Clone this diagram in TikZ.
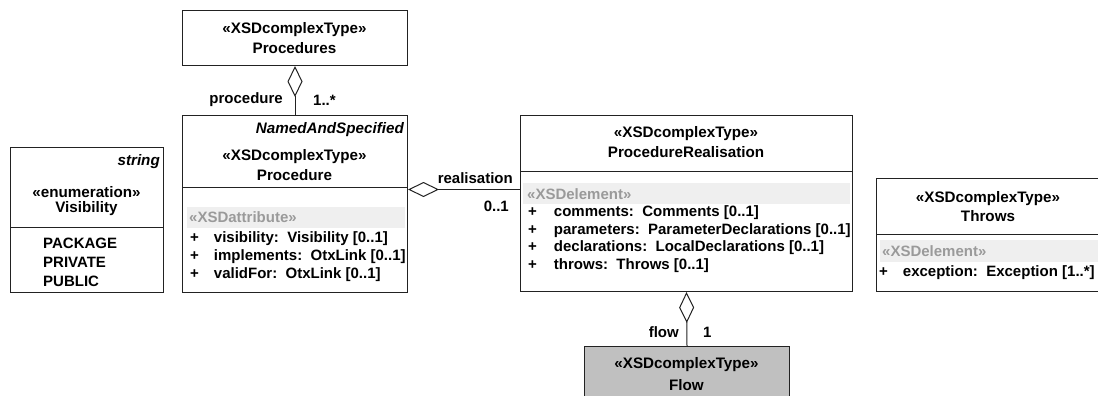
\documentclass[tikz,border=0pt]{standalone}
\usepackage{fontspec}
\setmainfont{Liberation Sans}
\usepackage{tikz}
\usetikzlibrary{arrows.meta,calc}
\definecolor{rahmen}{HTML}{222222}
\definecolor{balken}{HTML}{EFEFEF}
\definecolor{stereograu}{HTML}{9A9A9A}
\definecolor{flowgrau}{HTML}{C0C0C0}
\tikzset{
>=Stealth,
klasse/.style={draw=rahmen,line width=1pt,rectangle,inner sep=0pt,anchor=north west},
titel/.style={font=\fontsize{15.2}{17}\selectfont\bfseries,inner sep=0pt},
kursiv/.style={font=\fontsize{15.2}{17}\selectfont\bfseries\itshape,inner sep=0pt,anchor=east},
eintrag/.style={font=\fontsize{15}{17}\selectfont\bfseries,inner sep=0pt,anchor=west},
balkenbox/.style={fill=balken,inner sep=0pt,anchor=north west},
grautext/.style={eintrag,text=stereograu},
aggreg/.style={{Diamond[open,length=31pt,width=15pt]}-,draw=rahmen,line width=1pt},
rolle/.style={font=\fontsize{15}{17}\selectfont\bfseries,inner sep=0pt}}

\begin{document}
\begin{tikzpicture}[x=1pt,y=-1pt]

\useasboundingbox (0,0) rectangle (1098,396);
\clip (0,0) rectangle (1098,396);

\node[klasse,minimum width=225pt,minimum height=55pt] (procs) at (182,10) {};
\node[titel] (procsSt) at (294.5,30) {«XSDcomplexType»};
\node[titel] (procsNm) at (294.5,48) {Procedures};

\node[klasse,minimum width=225pt,minimum height=177pt] (proc) at (182,115) {};
\node[kursiv] (procBase) at (404,130) {NamedAndSpecified};
\node[titel] (procSt) at (294.5,157) {«XSDcomplexType»};
\node[titel] (procNm) at (294.5,175) {Procedure};
\draw[rahmen,line width=1pt] (proc.west |- 0,187) -- (proc.east |- 0,187);
\node[balkenbox,minimum width=218pt,minimum height=21pt] (procBar) at (187,207) {};
\node[grautext] (procAttr) at (189,217.5) {«XSDattribute»};
\node[eintrag] (procA1) at (190,239) {+\hspace{15pt}visibility:\ \ Visibility [0..1]};
\node[eintrag] (procA2) at (190,257) {+\hspace{15pt}implements:\ \ OtxLink [0..1]};
\node[eintrag] (procA3) at (190,275) {+\hspace{15pt}validFor:\ \ OtxLink [0..1]};

\node[klasse,minimum width=153pt,minimum height=145pt] (vis) at (10,147) {};
\node[kursiv] (visBase) at (160,162) {string};
\node[titel] (visSt) at (86.5,192) {«enumeration»};
\node[titel] (visNm) at (86.5,209) {Visibility};
\draw[rahmen,line width=1pt] (vis.west |- 0,227) -- (vis.east |- 0,227);
\node[eintrag] (visL1) at (43,243) {PACKAGE};
\node[eintrag] (visL2) at (43,262) {PRIVATE};
\node[eintrag] (visL3) at (43,281) {PUBLIC};

\node[klasse,minimum width=332pt,minimum height=176pt] (real) at (520,115) {};
\node[titel] (realSt) at (686,134) {«XSDcomplexType»};
\node[titel] (realNm) at (686,152) {ProcedureRealisation};
\draw[rahmen,line width=1pt] (real.west |- 0,171) -- (real.east |- 0,171);
\node[balkenbox,minimum width=327pt,minimum height=21pt] (realBar) at (523,183) {};
\node[grautext] (realElem) at (527,194) {«XSDelement»};
\node[eintrag] (realA1) at (528,213) {+\hspace{17pt}comments:\ \ Comments [0..1]};
\node[eintrag] (realA2) at (528,230.5) {+\hspace{17pt}parameters:\ \ ParameterDeclarations [0..1]};
\node[eintrag] (realA3) at (528,248) {+\hspace{17pt}declarations:\ \ LocalDeclarations [0..1]};
\node[eintrag] (realA4) at (528,265.5) {+\hspace{17pt}throws:\ \ Throws [0..1]};

\node[klasse,minimum width=240pt,minimum height=113pt] (thr) at (876,178) {};
\node[titel] (thrSt) at (988,199) {«XSDcomplexType»};
\node[titel] (thrNm) at (988,216) {Throws};
\draw[rahmen,line width=1pt] (thr.west |- 0,234) -- (thr.east |- 0,234);
\node[balkenbox,minimum width=230pt,minimum height=22pt] (thrBar) at (880,240) {};
\node[grautext] (thrElem) at (882,251) {«XSDelement»};
\node[eintrag] (thrA1) at (879,273) {+\hspace{15pt}exception:\ \ Exception [1..*]};

\node[klasse,fill=flowgrau,minimum width=205pt,minimum height=70pt] (flow) at (584,346) {};
\node[titel] (flowSt) at (686.5,365) {«XSDcomplexType»};
\node[titel] (flowNm) at (686.5,385) {Flow};

\draw[aggreg] (procs.south) -- (proc.north);
\node[rolle,anchor=east] (rProc) at (283,100) {procedure};
\node[rolle,anchor=west] (mProc) at (313,100) {1..*};

\draw[aggreg] ([yshift=14.5pt]proc.east) -- ([yshift=14.5pt]proc.east -| real.west);
\node[rolle,anchor=east] (rReal) at (513,178) {realisation};
\node[rolle,anchor=east] (mReal) at (509,206) {0..1};

\draw[aggreg] (real.south) -- (flow.north);
\node[rolle,anchor=east] (rFlow) at (679,332) {flow};
\node[rolle,anchor=west] (mFlow) at (703,332) {1};
\end{tikzpicture}
\end{document}
